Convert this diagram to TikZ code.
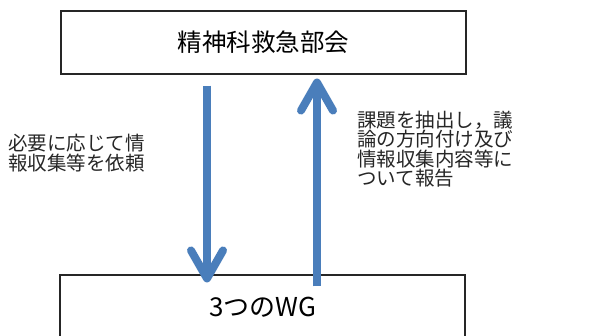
\documentclass[tikz,border=0pt]{standalone}
\usepackage{fontspec}
\newfontfamily\cjk{Noto Sans CJK JP}
\usetikzlibrary{arrows.meta}
\definecolor{arrowblue}{RGB}{74,126,187}
\tikzset{
  x=1pt,y=-1pt,
  box/.style={draw=black!85, line width=1.1pt, minimum width=405pt, inner sep=0pt, font=\cjk},
  flow/.style={draw=arrowblue, line width=8pt, -{Straight Barb[length=28pt,width=32pt,round]}},
  label/.style={font=\cjk\fontsize{19.5pt}{20pt}\selectfont, align=left, inner sep=0pt, text=black!85}
}
\begin{document}
\begin{tikzpicture}
\useasboundingbox (0,0) rectangle (605,336);
\fill[white] (0,0) rectangle (605,336);
\node[box, minimum height=63pt, font=\cjk\fontsize{24.5pt}{28pt}\selectfont] (top) at (263.5,42.5) {精神科救急部会};
\node[box, minimum height=70pt, font=\cjk\fontsize{26pt}{30pt}\selectfont, text depth=7pt] (bot) at (262.5,310) {3つのWG};
\coordinate (dstart) at ([xshift=-56.5pt,yshift=-11pt]top.south);
\coordinate (dend) at ([xshift=-55.5pt,yshift=-8pt]bot.north);
\coordinate (ustart) at ([xshift=54.5pt,yshift=-12pt]bot.north);
\coordinate (uend) at ([xshift=53.5pt,yshift=-4pt]top.south);
\draw[flow] (dstart) -- (dend);
\draw[flow] (ustart) -- (uend);
\node[label, anchor=west] (left) at (8,153) {必要に応じて情\\報収集等を依頼};
\node[label, anchor=west, font=\cjk\fontsize{19.5pt}{19.5pt}\selectfont] (right) at (357,149) {課題を抽出し，議\\論の方向付け及び\\情報収集内容等に\\ついて報告};
\end{tikzpicture}
\end{document}
